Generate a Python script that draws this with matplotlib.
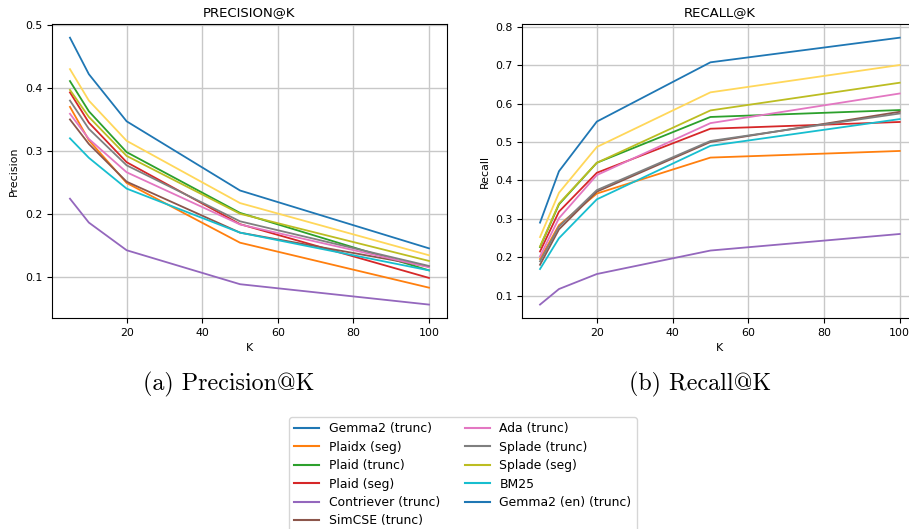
import matplotlib
matplotlib.use('Agg')
import matplotlib.pyplot as plt
from matplotlib.lines import Line2D

# K values on the x axis
K = [5, 10, 20, 50, 100]

# model names, in legend order
names = ['Gemma2 (trunc)', 'Plaidx (seg)', 'Plaid (trunc)', 'Plaid (seg)',
         'Contriever (trunc)', 'SimCSE (trunc)', 'Ada (trunc)', 'Splade (trunc)',
         'Splade (seg)', 'BM25', 'Gemma2 (en) (trunc)']

# precision@K per model
prec_gemma2 = [0.480, 0.422, 0.347, 0.237, 0.145]
prec_plaidx_seg = [0.370, 0.317, 0.249, 0.154, 0.0825]
prec_plaid_trunc = [0.411, 0.363, 0.298, 0.2014, 0.110]
prec_plaid_seg = [0.393, 0.345, 0.282, 0.1835, 0.098]
prec_contriever = [0.224, 0.186, 0.142, 0.088, 0.0556]
prec_simcse = [0.350, 0.311, 0.251, 0.170, 0.116]
prec_ada = [0.359, 0.319, 0.266, 0.183, 0.115]
prec_splade_trunc = [0.380, 0.335, 0.277, 0.188, 0.117]
prec_splade_seg = [0.397, 0.354, 0.292, 0.200, 0.125]
prec_bm25 = [0.320, 0.289, 0.240, 0.170, 0.110]
prec_gemma2_en = [0.430, 0.380, 0.316, 0.217, 0.134]

# recall@K per model
rec_gemma2 = [0.2905, 0.424, 0.553, 0.707, 0.771]
rec_plaidx_seg = [0.196, 0.284, 0.366, 0.4595, 0.4767]
rec_plaid_trunc = [0.227, 0.338, 0.446, 0.565, 0.583]
rec_plaid_seg = [0.2155, 0.319, 0.420, 0.5345, 0.552]
rec_contriever = [0.0776, 0.118, 0.157, 0.218, 0.261]
rec_simcse = [0.181, 0.273, 0.371, 0.500, 0.5785]
rec_ada = [0.203, 0.302, 0.414, 0.549, 0.626]
rec_splade_trunc = [0.190, 0.280, 0.375, 0.5026, 0.574]
rec_splade_seg = [0.2285, 0.340, 0.446, 0.582, 0.654]
rec_bm25 = [0.170, 0.250, 0.351, 0.490, 0.5595]
rec_gemma2_en = [0.253, 0.368, 0.487, 0.629, 0.700]

precision = [prec_gemma2, prec_plaidx_seg, prec_plaid_trunc, prec_plaid_seg,
             prec_contriever, prec_simcse, prec_ada, prec_splade_trunc,
             prec_splade_seg, prec_bm25, prec_gemma2_en]
recall = [rec_gemma2, rec_plaidx_seg, rec_plaid_trunc, rec_plaid_seg,
          rec_contriever, rec_simcse, rec_ada, rec_splade_trunc,
          rec_splade_seg, rec_bm25, rec_gemma2_en]

tab = plt.rcParams['axes.prop_cycle'].by_key()['color']
# plot colours: tab10 + a yellow for the last one
line_colors = tab[:10] + ['#ffd75a']
# the legend was made with the plain colour cycle, so the 11th wraps to blue
legend_colors = [tab[i % 10] for i in range(len(names))]

base = 7.9
fig = plt.figure(figsize=(9.09, 5.29), dpi=100)
ax1 = fig.add_axes([0.0572, 0.399, 0.4345, 0.555])
ax2 = fig.add_axes([0.5743, 0.399, 0.4353, 0.555])

for i in range(len(names)):
    ax1.plot(K, precision[i], color=line_colors[i], lw=1.3)
    ax2.plot(K, recall[i], color=line_colors[i], lw=1.3)

ax1.set_title('PRECISION@K', fontsize=9.5)
ax1.set_xlabel('K', fontsize=base)
ax1.set_ylabel('Precision', fontsize=base)
ax2.set_title('RECALL@K', fontsize=9.5)
ax2.set_xlabel('K', fontsize=base)
ax2.set_ylabel('Recall', fontsize=base)

for ax in (ax1, ax2):
    ax.grid(True, color='#c8c8c8', lw=1.0)
    ax.tick_params(labelsize=base)
    ax.set_xticks([20, 40, 60, 80, 100])

# sub-figure captions (LaTeX-looking)
cap_font = ['cmr10', 'DejaVu Serif']
fig.text(0.252, 0.274, '(a) Precision@K', fontsize=17.3, family=cap_font, ha='center', va='center')
fig.text(0.770, 0.274, '(b) Recall@K', fontsize=17.3, family=cap_font, ha='center', va='center')

handles = [Line2D([], [], color=c, lw=1.5) for c in legend_colors]
fig.legend(handles, names, ncol=2, fontsize=8.9, loc='upper left', labelspacing=0.44,
           bbox_to_anchor=(0.3183, 0.2112), borderaxespad=0, frameon=True)

fig.savefig('out.png', dpi=100)
